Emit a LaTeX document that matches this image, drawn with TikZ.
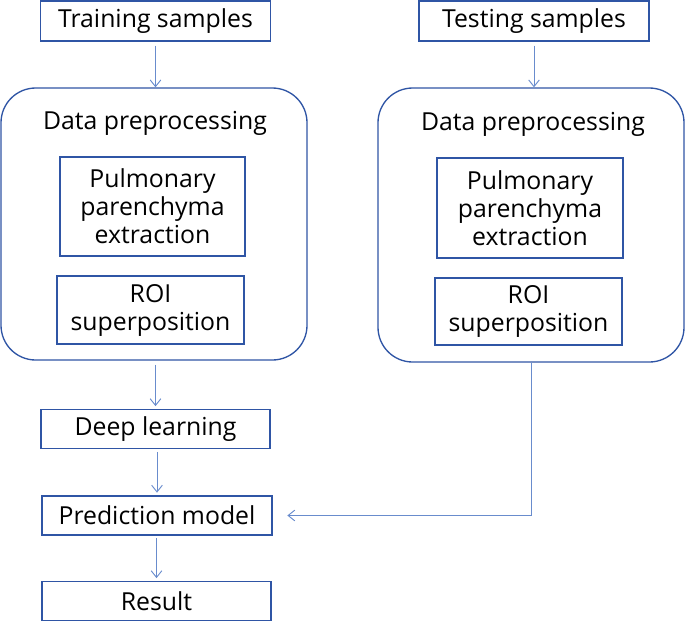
\documentclass[tikz,border=0pt]{standalone}
\usepackage{fontspec}
\setmainfont{Open Sans}
\usetikzlibrary{arrows.meta}
\definecolor{boxblue}{RGB}{47,85,165}
\definecolor{arrowblue}{RGB}{105,140,205}

\begin{document}
\begin{tikzpicture}[x=0.75pt,y=0.75pt,yscale=-1,xscale=1,
  box/.style={draw=boxblue, line width=1pt, align=center, inner sep=0pt, font=\fontsize{18.6}{21}\selectfont},
  group/.style={draw=boxblue, line width=1pt, rounded corners=26pt, inner sep=0pt},
  title/.style={inner sep=0pt, font=\fontsize{18.6}{21}\selectfont},
  link/.style={draw=arrowblue, line width=0.7pt, -{Straight Barb[length=5pt,width=8pt]}}]
\useasboundingbox (0,0) rectangle (685,622);

% left column
\node [box, minimum width=172.5pt, minimum height=30pt] (train) at (155.5,21) {Training samples};
\node [group, minimum width=229.5pt, minimum height=204pt] (lgroup) at (154,224) {};
\node [title] (lprep) at (155,123) {Data preprocessing};
\node [box, minimum width=138.75pt, minimum height=74.25pt] (lpul) at (152.5,206.5) {Pulmonary\\parenchyma\\extraction};
\node [box, minimum width=140.25pt, minimum height=51pt] (lroi) at (150.5,310) {ROI\\superposition};
\node [box, minimum width=171.75pt, minimum height=29.25pt] (deep) at (155.5,429) {Deep learning};
\node [box, minimum width=172.5pt, minimum height=29.25pt] (pred) at (157,515.5) {Prediction model};
\node [box, minimum width=171.75pt, minimum height=29.25pt] (result) at (156.5,601) {Result};

% right column
\node [box, minimum width=172.5pt, minimum height=30pt] (test) at (534,21) {Testing samples};
\node [group, minimum width=229.5pt, minimum height=205.5pt] (rgroup) at (531,225) {};
\node [title] (rprep) at (533,124) {Data preprocessing};
\node [box, minimum width=139.5pt, minimum height=75pt] (rpul) at (530,208) {Pulmonary\\parenchyma\\extraction};
\node [box, minimum width=140.25pt, minimum height=50.25pt] (rroi) at (528.5,311.5) {ROI\\superposition};

% connectors
\draw [link, shorten <=3pt] (train.south) -- (train.south |- lgroup.north);
\draw [link, shorten <=3pt] (test.south) -- (test.south |- rgroup.north);
\draw [link, shorten <=3pt, shorten >=2pt] (lgroup.south -| deep.north) -- (deep.north);
\draw [link, shorten <=2pt, shorten >=2pt] (deep.south -| pred.north) -- (pred.north);
\draw [link, shorten <=2pt, shorten >=2pt] (pred.south -| result.north) -- (result.north);
\draw [link, shorten >=11pt] (rgroup.south) |- (pred.east);

\end{tikzpicture}
\end{document}
